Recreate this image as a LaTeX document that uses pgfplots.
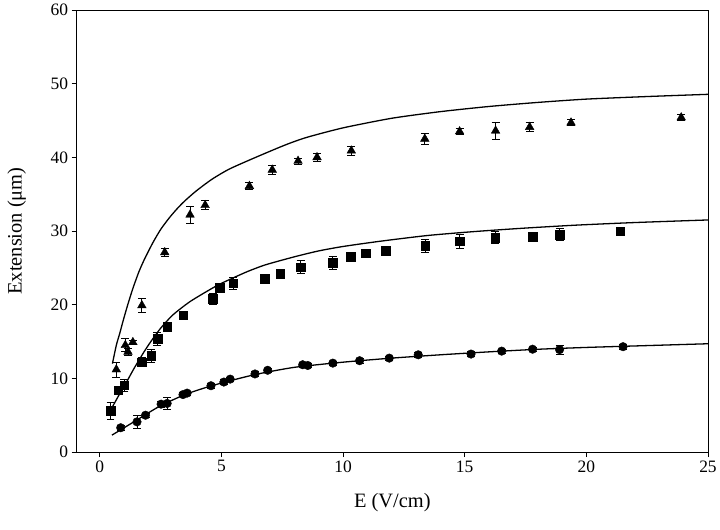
\documentclass[border=0pt]{standalone}
\usepackage{pgfplots}
\pgfplotsset{compat=1.18}
\usepackage{fontspec}
\setmainfont{Liberation Serif}
\begin{document}
\begin{tikzpicture}
\begin{axis}[
  scale only axis,
  width=634pt, height=444pt,
  xmin=-0.95, xmax=25, ymin=0, ymax=60,
  xtick={0,5,10,15,20,25}, ytick={0,10,20,30,40,50,60},
  tick align=outside, xtick pos=bottom, ytick pos=left,
  major tick length=5pt,
  tick style={black, line width=0.8pt},
  axis line style={black, line width=0.8pt},
  /pgf/number format/assume math mode=true,
  ticklabel style={font=\fontsize{17.5}{20}\selectfont},
  xlabel={E (V/cm)}, ylabel={Extension (μm)},
  xlabel style={font=\fontsize{20.5}{24}\selectfont, at={(axis description cs:0.5,-0.115)}, anchor=center},
  ylabel style={font=\fontsize{20.5}{24}\selectfont, at={(axis description cs:-0.095,0.5)}, anchor=center},
  every axis plot/.append style={black},
  clip=false,
]
% fitted curves
\addplot[line width=1.3pt, smooth, tension=0.4] coordinates {
(0.5,2.3)(1,3.3)(1.5,4.3)(2.45,6.2)(3.5,7.8)(4.5,8.9)(5.5,9.8)(6.5,10.6)(8,11.5)(10,12.2)(12,12.75)(14,13.2)(16,13.6)(18,13.95)(20,14.2)(22.5,14.45)(25,14.7)};
\addplot[line width=1.3pt, smooth, tension=0.4] coordinates {
(0.48,5.9)(0.8,7.8)(1.1,9.5)(1.4,11.3)(1.8,13.5)(2.1,15.0)(2.5,16.8)(3.0,18.6)(3.7,20.4)(4.5,22.0)(5.0,22.9)(6.0,24.4)(6.8,25.4)(8.0,26.5)(9.0,27.3)(10,27.9)(11.5,28.6)(13.5,29.4)(15.5,29.95)(17.5,30.4)(19.6,30.8)(22,31.15)(25,31.5)};
\addplot[line width=1.3pt, smooth, tension=0.4] coordinates {
(0.52,12.0)(0.68,14.5)(0.82,16.1)(0.95,17.7)(1.15,20.0)(1.36,22.2)(1.6,24.4)(1.84,26.2)(2.18,28.4)(2.5,30.2)(2.86,31.8)(3.2,33.1)(3.5,34.1)(3.95,35.4)(4.6,37.0)(5.32,38.4)(6.41,40.0)(7.64,41.7)(8.5,42.7)(10,44.0)(12,45.3)(14,46.2)(16,46.9)(18,47.45)(20,47.9)(22.5,48.25)(25,48.55)};
% circles
\addplot[only marks, mark=*, mark size=4.3pt, mark options={fill=black},
  error bars/.cd, y dir=both, y explicit,
  error bar style={line width=0.8pt}, error mark options={rotate=90, mark size=4pt, line width=0.8pt}]
  table[x=x, y=y, y error=e] {
x y e
0.86 3.3 0.3
1.53 4.1 0.9
1.88 5.0 0.3
2.52 6.5 0.4
2.77 6.6 0.8
3.42 7.8 0.3
3.59 8.0 0.3
4.57 9.0 0.3
5.10 9.5 0.3
5.36 9.9 0.3
6.38 10.6 0.3
6.90 11.1 0.3
8.34 11.85 0.3
8.55 11.75 0.3
9.58 12.07 0.3
10.68 12.4 0.3
11.9 12.75 0.3
13.09 13.2 0.3
15.26 13.3 0.3
16.52 13.7 0.3
17.79 13.96 0.3
18.9 13.9 0.6
21.51 14.3 0.3
};
% squares
\addplot[only marks, mark=square*, mark size=4.3pt, mark options={fill=black},
  error bars/.cd, y dir=both, y explicit,
  error bar style={line width=0.8pt}, error mark options={rotate=90, mark size=4pt, line width=0.8pt}]
  table[x=x, y=y, y error=e] {
x y e
0.44 5.6 1.2
0.75 8.4 0.4
1.01 9.1 0.8
1.72 12.2 0.6
2.11 13.05 0.9
2.37 15.4 0.9
2.78 17.0 0.4
3.43 18.6 0.3
4.65 20.8 0.7
4.94 22.3 0.3
5.48 22.9 0.8
6.78 23.5 0.4
7.42 24.2 0.3
8.26 25.1 0.9
9.57 25.7 0.9
10.31 26.5 0.5
10.93 27.0 0.4
11.75 27.35 0.5
13.37 27.97 0.9
14.79 28.6 0.9
16.25 29.1 0.8
17.79 29.2 0.4
18.9 29.5 0.8
21.39 30.0 0.4
};
% triangles
\addplot[only marks, mark=triangle*, mark size=5pt, mark options={fill=black},
  error bars/.cd, y dir=both, y explicit,
  error bar style={line width=0.8pt}, error mark options={rotate=90, mark size=4pt, line width=0.8pt}]
  table[x=x, y=y, y error=e] {
x y e
0.68 11.2 1.0
1.05 14.5 0.9
1.16 13.6 0.5
1.36 14.9 0.3
1.73 19.9 0.9
2.67 27.1 0.5
3.71 32.2 1.1
4.33 33.5 0.6
6.15 36.1 0.5
7.09 38.3 0.6
8.15 39.5 0.4
8.93 40.0 0.5
10.34 40.9 0.6
13.36 42.5 0.8
14.79 43.5 0.4
16.27 43.6 1.2
17.67 44.1 0.6
19.37 44.7 0.4
23.9 45.4 0.4
};
\end{axis}
\path ([shift={(-77pt,-78pt)}]current axis.south west) rectangle ([shift={(9pt,10pt)}]current axis.north east);
\end{tikzpicture}
\end{document}
